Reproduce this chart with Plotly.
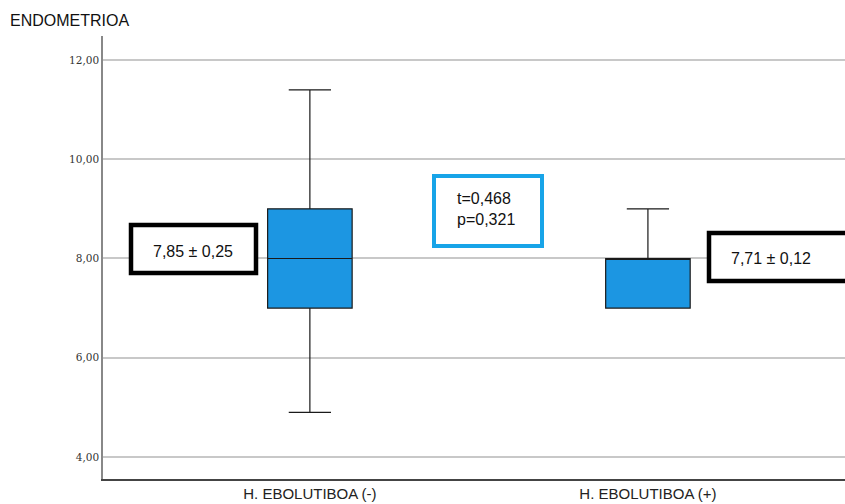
import plotly.graph_objects as go

categories = ["H. EBOLUTIBOA (-)", "H. EBOLUTIBOA (+)"]
cat_pos = [0, 1]
q1 = [7.0, 7.0]
median = [8.0, 8.0]
q3 = [9.0, 8.0]
lower = [4.9, 7.0]
upper = [11.4, 9.0]
y_ticks = [4, 6, 8, 10, 12]
label_left = "7,85 ± 0,25"
label_right = "7,71 ± 0,12"
stat_text = "t=0,468<br>p=0,321"

fig = go.Figure()
fig.add_trace(go.Box(
    x=cat_pos, q1=q1, median=median, q3=q3,
    lowerfence=lower, upperfence=upper,
    width=0.25, whiskerwidth=0.5,
    fillcolor="#1C96E2", line=dict(color="#1a1a1a", width=1.2),
    boxpoints=False, showlegend=False, hoverinfo="skip",
))

W, H = 845, 504
L, R, T, B = 103, 0, 36, 25
pw, ph = W - L - R, H - T - B

def px(x):
    return (x - L) / pw

def py(y):
    return (H - B - y) / ph

sans = "Liberation Sans, Arial"
shapes = [
    dict(type="rect", xref="paper", yref="paper", x0=px(131), x1=px(256), y0=py(273), y1=py(225),
         line=dict(color="#000000", width=4.5), fillcolor="white", layer="above"),
    dict(type="rect", xref="paper", yref="paper", x0=px(434), x1=px(542), y0=py(246), y1=py(176),
         line=dict(color="#18A4E8", width=4), fillcolor="white", layer="above"),
    dict(type="rect", xref="paper", yref="paper", x0=px(709), x1=px(860), y0=py(281), y1=py(233),
         line=dict(color="#000000", width=4.5), fillcolor="white", layer="above"),
]

annotations = [
    dict(xref="paper", yref="paper", x=px(193), y=py(251), text=label_left, showarrow=False,
         xanchor="center", yanchor="middle", font=dict(family=sans, size=16, color="#111")),
    dict(xref="paper", yref="paper", x=px(455), y=py(209), text=stat_text, showarrow=False,
         xanchor="left", yanchor="middle", align="left",
         font=dict(family=sans, size=16, color="#111")),
    dict(xref="paper", yref="paper", x=px(729), y=py(258), text=label_right, showarrow=False,
         xanchor="left", yanchor="middle", font=dict(family=sans, size=16, color="#111")),
]

fig.update_layout(
    width=W, height=H,
    margin=dict(l=L, r=R, t=T, b=B),
    paper_bgcolor="white", plot_bgcolor="white",
    separators=",.",
    title=dict(text="ENDOMETRIOA", x=10 / W, xref="container", xanchor="left",
               y=1 - 20 / H, yref="container", yanchor="middle",
               font=dict(family=sans, size=16, color="#111")),
    shapes=shapes, annotations=annotations,
    xaxis=dict(range=[-0.612, 1.583], tickvals=cat_pos, ticktext=categories,
               showgrid=False, zeroline=False, showline=True, linecolor="#444", linewidth=1.5,
               ticks="", tickfont=dict(family=sans, size=15, color="#222")),
    yaxis=dict(range=[3.556, 12.484], tickvals=y_ticks, tickformat=".2f",
               showgrid=True, gridcolor="#C8C8C8", gridwidth=1.5, zeroline=False,
               showline=True, linecolor="#888", linewidth=1.5, ticks="",
               tickfont=dict(family="DejaVu Serif", size=10.5, color="#333")),
)

fig.write_html("out.html", config={"displayModeBar": False},
               post_script="document.body.style.margin='0';document.body.style.overflow='hidden';")
